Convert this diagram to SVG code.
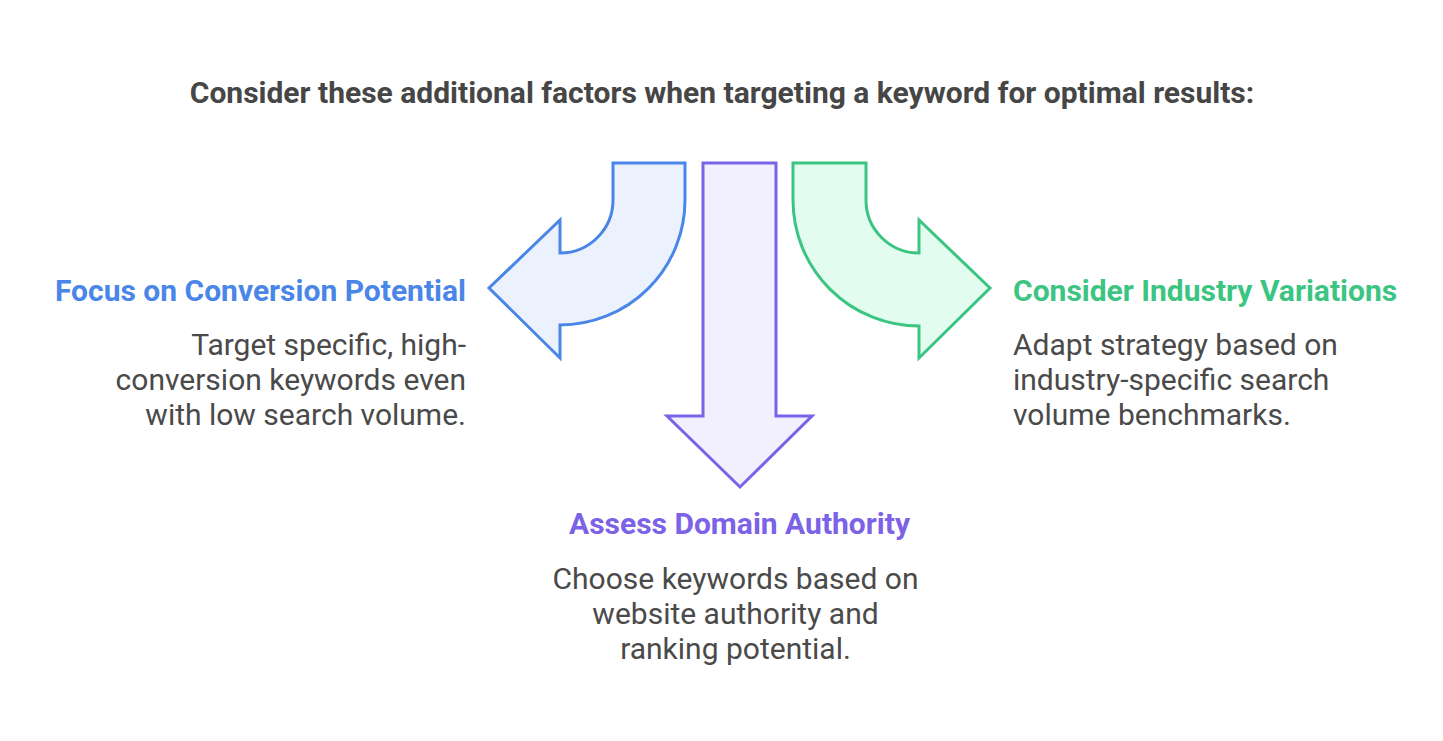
<svg xmlns="http://www.w3.org/2000/svg" width="1443" height="741" viewBox="0 0 1443 741">
<style>
.t{font-family:Roboto,"Liberation Sans",sans-serif;fill:#464646}
.title{font-size:30px;font-weight:bold}
.h{font-size:30px;font-weight:bold}
.b{font-size:30px;fill:#4a4a4a}
.ar{stroke-width:3;stroke-linejoin:miter}
</style>
<rect width="1443" height="741" fill="#fff"/>
<text class="t title" x="722" y="103" text-anchor="middle">Consider these additional factors when targeting a keyword for optimal results:</text>
<g id="connectors">
<path id="arrow-left" class="ar" fill="#ebf2fe" stroke="#4a86e8" d="M613,163 L685,163 L685,200 A125,125 0 0 1 560,325 L560,358 L489,288 L560,220 L560,253 A53,53 0 0 0 613,200 Z"/>
<path id="arrow-down" class="ar" fill="#f2f0fe" stroke="#7b62e6" d="M703,163 L776,163 L776,416 L812,416 L740,487 L667,416 L703,416 Z"/>
<path id="arrow-right" class="ar" fill="#e2fcf0" stroke="#3cc582" d="M866,163 L793,163 L793,200 A126,126 0 0 0 919,326 L919,358 L990,288 L919,220 L919,253 A53,53 0 0 1 866,200 Z"/>
</g>
<g id="node-conversion">
<text class="t h" x="466" y="301" text-anchor="end" style="fill:#4a86e8">Focus on Conversion Potential</text>
<text class="t b" x="466" y="355" text-anchor="end">Target specific, high-</text>
<text class="t b" x="466" y="390" text-anchor="end">conversion keywords even</text>
<text class="t b" x="466" y="425" text-anchor="end">with low search volume.</text>
</g>
<g id="node-industry">
<text class="t h" x="1013" y="301" style="fill:#3cc582">Consider Industry Variations</text>
<text class="t b" x="1013" y="355">Adapt strategy based on</text>
<text class="t b" x="1013" y="390">industry-specific search</text>
<text class="t b" x="1013" y="425">volume benchmarks.</text>
</g>
<g id="node-domain">
<text class="t h" x="739.5" y="534" text-anchor="middle" style="fill:#7b62e6">Assess Domain Authority</text>
<text class="t b" x="735.5" y="589" text-anchor="middle">Choose keywords based on</text>
<text class="t b" x="735.5" y="624" text-anchor="middle">website authority and</text>
<text class="t b" x="735.5" y="659" text-anchor="middle">ranking potential.</text>
</g>
</svg>
